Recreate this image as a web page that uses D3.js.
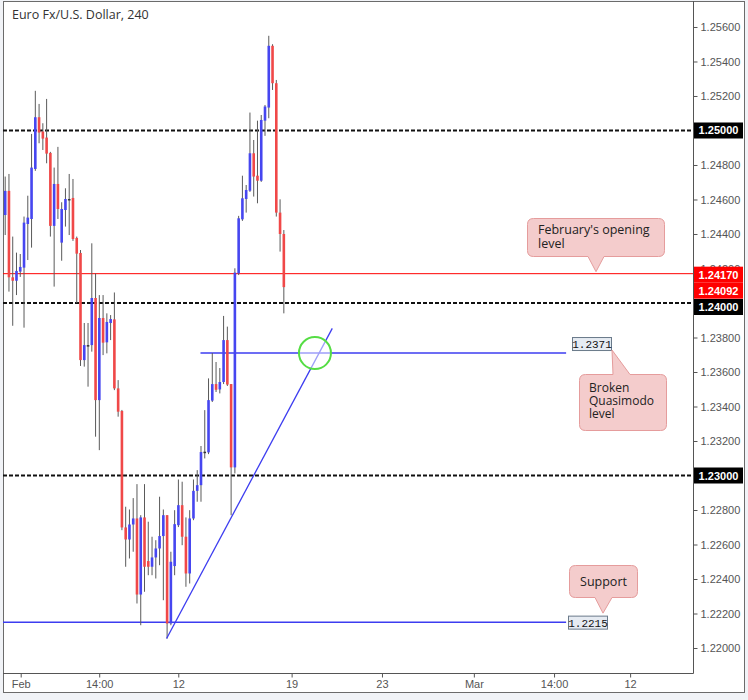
<!DOCTYPE html>
<html>
<head>
<meta charset="utf-8">
<script src="https://cdn.jsdelivr.net/npm/d3@7"></script>
<style>
  html, body { margin: 0; padding: 0; background: #f1f3f7; }
  svg { display: block; }
  .tick text { font-family: "Liberation Sans", Arial, sans-serif; }
</style>
</head>
<body>
<svg id="chart" width="748" height="700"></svg>
<script>
// EURUSD 4h candles (oldest first)
var opens = [1.24510,1.24650,1.24149,1.24129,1.24182,1.24205,1.24458,1.24487,1.24777,1.25077,
  1.24994,1.24959,1.24870,1.24447,1.24690,1.24350,1.24539,1.24603,1.24609,1.24377,
  1.24290,1.23669,1.23756,1.23756,1.24029,1.23437,1.23913,1.23772,1.23884,1.23905,
  1.23505,1.23374,1.22699,1.22629,1.22716,1.22751,1.22310,1.22757,1.22504,1.22471,
  1.22525,1.22577,1.22649,1.22770,1.22142,1.22475,1.22712,1.22828,1.22645,1.22432,
  1.22751,1.22911,1.22944,1.23138,1.23134,1.23434,1.23530,1.23499,1.23542,1.23785,
  1.23530,1.23047,1.24172,1.24485,1.24603,1.24651,1.24868,1.24738,1.24709,1.25057,
  1.25133,1.25491,1.25274,1.24524,1.24400];
var highs = [1.24733,1.24748,1.24385,1.24292,1.24284,1.24501,1.24622,1.24980,1.25230,1.25154,
  1.25042,1.25183,1.24876,1.24785,1.24905,1.24584,1.24665,1.24748,1.24719,1.24385,
  1.24307,1.23884,1.23884,1.24346,1.24172,1.24046,1.24046,1.23940,1.23930,1.24061,
  1.23553,1.23380,1.22819,1.22803,1.22869,1.22950,1.22770,1.22950,1.22732,1.22645,
  1.22625,1.22877,1.22803,1.22770,1.22558,1.22799,1.22977,1.22964,1.22757,1.22799,
  1.22977,1.23031,1.23171,1.23379,1.23563,1.23710,1.23658,1.23623,1.23925,1.23863,
  1.23530,1.24201,1.24505,1.24738,1.24684,1.25104,1.24945,1.25057,1.25090,1.25148,
  1.25549,1.25500,1.25293,1.24601,1.24423];
var lows = [1.24394,1.24066,1.23868,1.24046,1.24151,1.23857,1.24249,1.24321,1.24766,1.24926,
  1.24887,1.24810,1.24385,1.24095,1.24487,1.24245,1.24443,1.24394,1.24360,1.24000,
  1.23635,1.23631,1.23515,1.23718,1.23225,1.23147,1.23698,1.23708,1.23785,1.23495,
  1.23341,1.22683,1.22471,1.22519,1.22558,1.22258,1.22132,1.22326,1.22422,1.22422,
  1.22403,1.22480,1.22277,1.22055,1.22132,1.22422,1.22701,1.22596,1.22355,1.22374,
  1.22741,1.22848,1.22848,1.23099,1.23124,1.23426,1.23484,1.23476,1.23530,1.23519,
  1.22770,1.23012,1.24162,1.24476,1.24524,1.24644,1.24617,1.24578,1.24702,1.24969,
  1.25071,1.25235,1.24501,1.24298,1.23940];
var closes = [1.24650,1.24149,1.24129,1.24186,1.24209,1.24466,1.24495,1.24785,1.25077,1.24988,
  1.24953,1.24866,1.24447,1.24690,1.24545,1.24545,1.24603,1.24601,1.24371,1.24286,
  1.23669,1.23756,1.23754,1.24029,1.23437,1.23913,1.23770,1.23890,1.23907,1.23505,
  1.23370,1.22699,1.22629,1.22716,1.22751,1.22310,1.22757,1.22471,1.22471,1.22525,
  1.22577,1.22649,1.22770,1.22142,1.22500,1.22718,1.22828,1.22645,1.22432,1.22751,
  1.22911,1.22944,1.23136,1.23136,1.23437,1.23530,1.23497,1.23542,1.23785,1.23527,
  1.23047,1.24176,1.24491,1.24607,1.24655,1.24868,1.24733,1.24709,1.25061,1.25139,
  1.25491,1.25274,1.24524,1.24400,1.24092];

// time axis: bar index of each label
var timeTickPos = [4.25, 25.1, 46.1, 76.2, 100.2, 124.6, 145.9, 166.1];
var timeTickLabels = ["Feb", "14:00", "12", "19", "23", "Mar", "14:00", "12"];

var priceTicks = [1.256,1.254,1.252,1.25,1.248,1.246,1.244,1.242,1.24,1.238,1.236,
  1.234,1.232,1.23,1.228,1.226,1.224,1.222,1.22];

var roundLevels = [1.25, 1.24, 1.23];
var openLevel = 1.2417;
var qmLevel = 1.2371;
var supportLevel = 1.2215;
var lastPrice = 1.24092;
// trend line from bar 43 low to bar 87
var trendIdx = [43, 87];
var trendPrice = [1.22055, 1.23853];

var svg = d3.select("#chart");
var pLeft = 3, pTop = 1, pRight = 693, pBottom = 673, frameR = 744, frameB = 692;

var x = d3.scaleLinear().domain([-0.45, 182.8]).range([pLeft, pRight]);
var y = d3.scaleLinear().domain([1.218551, 1.257507]).range([pBottom, pTop]);

svg.append("rect")
    .attr("x", pLeft + 0.5).attr("y", pTop + 0.5)
    .attr("width", frameR - pLeft).attr("height", frameB - pTop)
    .attr("fill", "#fff").attr("stroke", "#6b6b6b");

var data = opens.map(function(o, i) {
  return { i: i, o: o, h: highs[i], l: lows[i], c: closes[i] };
});

var plot = svg.append("g");

// horizontal levels
plot.selectAll(".round").data(roundLevels).enter().append("line")
    .attr("x1", pLeft).attr("x2", pRight)
    .attr("y1", function(d) { return y(d); }).attr("y2", function(d) { return y(d); })
    .attr("stroke", "#111").attr("stroke-width", 2).attr("stroke-dasharray", "4,2");

plot.append("line")
    .attr("x1", pLeft).attr("x2", pRight)
    .attr("y1", y(openLevel)).attr("y2", y(openLevel))
    .attr("stroke", "#ff0000").attr("stroke-width", 1);

plot.append("line")
    .attr("x1", x(52)).attr("x2", x(149.1))
    .attr("y1", y(qmLevel)).attr("y2", y(qmLevel))
    .attr("stroke", "#3c3cf0").attr("stroke-width", 1.5);

plot.append("line")
    .attr("x1", pLeft).attr("x2", x(149.1))
    .attr("y1", y(supportLevel)).attr("y2", y(supportLevel))
    .attr("stroke", "#3c3cf0").attr("stroke-width", 1.5);

// candles
var bodyW = 2.6;
plot.selectAll(".wick").data(data).enter().append("line")
    .attr("x1", function(d) { return x(d.i) + 0.5; })
    .attr("x2", function(d) { return x(d.i) + 0.5; })
    .attr("y1", function(d) { return y(d.h); })
    .attr("y2", function(d) { return y(d.l); })
    .attr("stroke", "#5a5a5a").attr("stroke-width", 1);

plot.selectAll(".body").data(data).enter().append("rect")
    .attr("x", function(d) { return x(d.i) + 0.5 - bodyW / 2; })
    .attr("width", bodyW)
    .attr("y", function(d) { return y(Math.max(d.o, d.c)); })
    .attr("height", function(d) { return Math.max(1.5, Math.abs(y(d.o) - y(d.c))); })
    .attr("fill", function(d) {
      if (Math.abs(d.o - d.c) < 0.00003) return "#333";
      return d.c > d.o ? "#4646f0" : "#f04848";
    });

// trend line
plot.append("line")
    .attr("x1", x(trendIdx[0])).attr("y1", y(trendPrice[0]))
    .attr("x2", x(trendIdx[1])).attr("y2", y(trendPrice[1]))
    .attr("stroke", "#3c3cf0").attr("stroke-width", 1.3);

// green circle
plot.append("circle")
    .attr("cx", x(82.4)).attr("cy", y(qmLevel)).attr("r", 16)
    .attr("fill", "rgba(255,255,255,0.5)")
    .attr("stroke", "#55dd44").attr("stroke-width", 2);

// level boxes
function levelBox(value, px, yy) {
  var g = svg.append("g");
  g.append("rect")
      .attr("x", px + 0.5).attr("y", yy - 6.5).attr("width", 39).attr("height", 13)
      .attr("fill", "#e6ebf2").attr("stroke", "#6a7a8a");
  g.append("text").attr("x", px + 20).attr("y", yy + 4)
      .attr("text-anchor", "middle")
      .attr("font-family", "'Liberation Mono', 'DejaVu Sans Mono', monospace")
      .attr("font-size", 11).attr("fill", "#111").text(value);
}
levelBox("1.2371", 572, y(qmLevel) - 9);
levelBox("1.2215", 568, y(supportLevel) + 0.5);

// callouts
function bubble(bx, by, w, h, side, b1, b2, ax, ay, lines, tx) {
  var r = 6, p;
  if (side === "bottom") {
    p = "M" + (bx + r) + "," + by + "H" + (bx + w - r) +
      "Q" + (bx + w) + "," + by + " " + (bx + w) + "," + (by + r) +
      "V" + (by + h - r) + "Q" + (bx + w) + "," + (by + h) + " " + (bx + w - r) + "," + (by + h) +
      "H" + b2 + "L" + ax + "," + ay + "L" + b1 + "," + (by + h) +
      "H" + (bx + r) + "Q" + bx + "," + (by + h) + " " + bx + "," + (by + h - r) +
      "V" + (by + r) + "Q" + bx + "," + by + " " + (bx + r) + "," + by + "Z";
  } else {
    p = "M" + (bx + r) + "," + by + "H" + b1 + "L" + ax + "," + ay + "L" + b2 + "," + by +
      "H" + (bx + w - r) + "Q" + (bx + w) + "," + by + " " + (bx + w) + "," + (by + r) +
      "V" + (by + h - r) + "Q" + (bx + w) + "," + (by + h) + " " + (bx + w - r) + "," + (by + h) +
      "H" + (bx + r) + "Q" + bx + "," + (by + h) + " " + bx + "," + (by + h - r) +
      "V" + (by + r) + "Q" + bx + "," + by + " " + (bx + r) + "," + by + "Z";
  }
  svg.append("path").attr("d", p)
      .attr("fill", "#f4cccc").attr("stroke", "#e59c9c").attr("stroke-width", 1);
  var t = svg.append("text")
      .attr("font-family", "'Open Sans', 'Noto Sans', sans-serif")
      .attr("font-size", tx[4] || 12.5).attr("fill", "#222");
  lines.forEach(function(s, k) {
    t.append("tspan").attr("x", tx[0]).attr("y", tx[1] + k * tx[2]).text(s);
  });
  if (tx[3]) t.attr("text-anchor", "middle");
}
bubble(527.5, 218.5, 137, 38, "bottom", 588, 604, 596, y(openLevel) - 2,
  ["February's opening", "level"], [538, 234, 14]);
bubble(579.5, 374.5, 87, 56, "top", 613, 630, 612, y(qmLevel) - 3,
  ["Broken", "Quasimodo", "level"], [589, 392, 13, false, 12]);
bubble(569.5, 565.5, 68, 32, "bottom", 595, 612, 603, y(supportLevel) - 9,
  ["Support"], [603.5, 586, 0, true]);

// axes frame lines
svg.append("line").attr("x1", pLeft).attr("x2", pRight + 0.5)
    .attr("y1", pBottom + 0.5).attr("y2", pBottom + 0.5).attr("stroke", "#555");
svg.append("line").attr("x1", pRight + 0.5).attr("x2", pRight + 0.5)
    .attr("y1", pTop).attr("y2", pBottom + 0.5).attr("stroke", "#555");

var yAxis = svg.append("g")
    .attr("transform", "translate(" + (pRight + 0.5) + ",0)")
    .call(d3.axisRight(y).tickValues(priceTicks).tickFormat(d3.format(".5f")).tickSize(4).tickPadding(3));
yAxis.select(".domain").remove();
yAxis.selectAll("text").attr("font-size", 11).attr("fill", "#555");
yAxis.selectAll("line").attr("stroke", "#555");
// labels fully covered by the price tags are not shown
yAxis.selectAll(".tick").filter(function(d) {
  return roundLevels.some(function(r) { return Math.abs(r - d) < 1e-9; });
}).select("text").remove();

var xAxis = svg.append("g")
    .attr("transform", "translate(0," + (pBottom + 0.5) + ")")
    .call(d3.axisBottom(x).tickValues(timeTickPos)
      .tickFormat(function(d, i) { return timeTickLabels[i]; }).tickSize(4).tickPadding(3));
xAxis.select(".domain").remove();
xAxis.selectAll("text").attr("font-size", 11).attr("fill", "#555");
xAxis.selectAll("line").attr("stroke", "#555");

// price tags on the right scale
function tag(value, cy, color) {
  svg.append("rect").attr("x", pRight + 1).attr("y", cy - 8)
      .attr("width", 49).attr("height", 16).attr("fill", color);
  svg.append("text").attr("x", pRight + 25.5).attr("y", cy + 4)
      .attr("text-anchor", "middle")
      .attr("font-family", "'Liberation Sans', Arial, sans-serif")
      .attr("font-size", 11).attr("font-weight", "bold").attr("fill", "#fff")
      .text(d3.format(".5f")(value));
}
tag(1.25, y(1.25), "#000");
tag(1.23, y(1.23), "#000");
tag(openLevel, y(openLevel) + 1, "#ff0000");
tag(lastPrice, y(openLevel) + 17, "#ff0000");
tag(1.24, y(1.24) + 4, "#000");

// title
svg.append("text").attr("x", 12).attr("y", 19)
    .attr("font-family", "'Open Sans', 'Noto Sans', sans-serif")
    .attr("font-size", 12.5).attr("fill", "#333")
    .text("Euro Fx/U.S. Dollar, 240");
</script>
</body>
</html>
